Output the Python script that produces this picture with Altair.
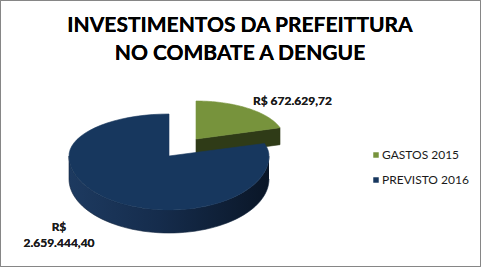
import math
import pandas as pd
import altair as alt

# ---- data -------------------------------------------------------------
categories = ["GASTOS 2015", "PREVISTO 2016"]
values = [672629.72, 2659444.40]
title_lines = ["INVESTIMENTOS DA PREFEITTURA", "NO COMBATE A DENGUE"]

# ---- styles -----------------------------------------------------------
top_colors = ["#77933C", "#17375E"]
side_colors = ["#2F3B17", "#12294A"]
FONT = "Lato"
W, H = 481, 267

# 3D pie geometry (pixel units on the linear scales)
# per slice: offset x, offset y, rx, ry back, ry front, depth
geom = [
    dict(dx=27, dy=-17, rx=88, ryb=38, ryf=48, depth=17),
    dict(dx=0, dy=0, rx=100, ryb=42, ryf=54, depth=23),
]
CX, CY = 169, 156


def brl(v):
    s = f"{v:,.2f}"
    return s.replace(",", "X").replace(".", ",").replace("X", ".")


def pt(a_deg, g, down=0.0):
    a = math.radians(a_deg)
    c = math.cos(a)
    ry = g["ryb"] if c > 0 else g["ryf"]
    x = CX + g["dx"] + g["rx"] * math.sin(a)
    y = CY + g["dy"] - ry * c + down
    return x, y


total = sum(values)
starts, ends = [], []
acc = 0.0
for v in values:
    starts.append(acc / total * 360)
    acc += v
    ends.append(acc / total * 360)

rows = []


def add_face(name, pts):
    for i, (x, y) in enumerate(pts):
        rows.append(dict(face=name, i=i, x=x, y=y))


def arc(a0, a1, g, down=0.0, n=60):
    return [pt(a0 + (a1 - a0) * k / n, g, down) for k in range(n + 1)]


for k, cat in enumerate(categories):
    g = geom[k]
    a0, a1 = starts[k], ends[k]
    vx, vy = CX + g["dx"], CY + g["dy"]
    # top face
    add_face(f"top{k}", [(vx, vy)] + arc(a0, a1, g) + [(vx, vy)])
    # visible outer side (front half, 90..270)
    s0, s1 = max(a0, 90), min(a1, 270)
    if s1 > s0:
        add_face(f"side{k}", arc(s0, s1, g) + arc(s1, s0, g, g["depth"]))
    # radial cut face at end angle (visible when end angle < 180)
    if a1 < 180:
        ex, ey = pt(a1, g)
        add_face(f"cut{k}", [(vx, vy), (ex, ey), (ex, ey + g["depth"]),
                             (vx, vy + g["depth"]), (vx, vy)])

df = pd.DataFrame(rows)

xs = alt.Scale(domain=[0, W], nice=False, zero=False)
ys = alt.Scale(domain=[H, 0], nice=False, zero=False)


def face(name, fill):
    return (
        alt.Chart(df)
        .transform_filter(alt.datum.face == name)
        .mark_line(filled=True, fill=fill, stroke=fill if isinstance(fill, str) else "#10233d",
                   strokeWidth=0.6, strokeJoin="round")
        .encode(
            x=alt.X("x:Q", scale=xs, axis=None),
            y=alt.Y("y:Q", scale=ys, axis=None),
            order=alt.Order("i:Q"),
        )
    )


blue_side = alt.Gradient(
    gradient="linear",
    stops=[
        alt.GradientStop(color="#1D3A60", offset=0),
        alt.GradientStop(color="#152C4C", offset=0.45),
        alt.GradientStop(color="#0A1627", offset=1),
    ],
    x1=0, x2=1, y1=0, y2=0,
)

layers = [
    face("cut0", side_colors[0]),
    face("top0", top_colors[0]),
    face("side1", blue_side),
    face("top1", top_colors[1]),
]

# legend (driven by categories)
legend_df = pd.DataFrame({"cat": categories})
legend_layer = (
    alt.Chart(legend_df)
    .mark_square(size=0, opacity=1)
    .encode(
        x=alt.value(-50),
        y=alt.value(-50),
        color=alt.Color(
            "cat:N",
            scale=alt.Scale(domain=categories, range=top_colors),
            legend=alt.Legend(
                title=None, orient="none", legendX=370, legendY=149,
                symbolType="square", symbolSize=30, symbolStrokeWidth=0,
                labelFont=FONT, labelFontSize=12, labelColor="#1a1a1a",
                labelOffset=0, rowPadding=13, padding=0,
            ),
        ),
    )
)

# data labels
lab_green = alt.Chart(legend_df).mark_text(
    font=FONT, fontSize=12, fontWeight="bold", color="#1a1a1a", align="left", baseline="middle"
).encode(x=alt.value(253), y=alt.value(101), text=alt.value(f"R$ {brl(values[0])}"))

lab_blue = alt.Chart(legend_df).mark_text(
    font=FONT, fontSize=12, fontWeight="bold", color="#1a1a1a", align="center",
    baseline="middle", lineHeight=16
).encode(x=alt.value(59), y=alt.value(227), text=alt.value(["R$", brl(values[1])]))

title = alt.Chart(legend_df).mark_text(
    font=FONT, fontSize=21, fontWeight="bold", color="#000000", align="center",
    baseline="middle", lineHeight=28.5
).encode(x=alt.value(240), y=alt.value(25.5), text=alt.value(title_lines))

border = alt.Chart(legend_df).mark_rect(fill="white", fillOpacity=0, stroke="#868686", strokeWidth=1).encode(
    x=alt.value(0.5), x2=alt.value(W - 0.5), y=alt.value(0.5), y2=alt.value(H - 0.5)
)

chart = (
    alt.layer(*layers, legend_layer, lab_green, lab_blue, title, border)
    .properties(width=W, height=H, padding=0, autosize=alt.AutoSizeParams(type="none"))
    .configure_view(stroke=None)
    .configure(background="white")
)

chart.save("out.html", embed_options={"renderer": "svg", "actions": False})
